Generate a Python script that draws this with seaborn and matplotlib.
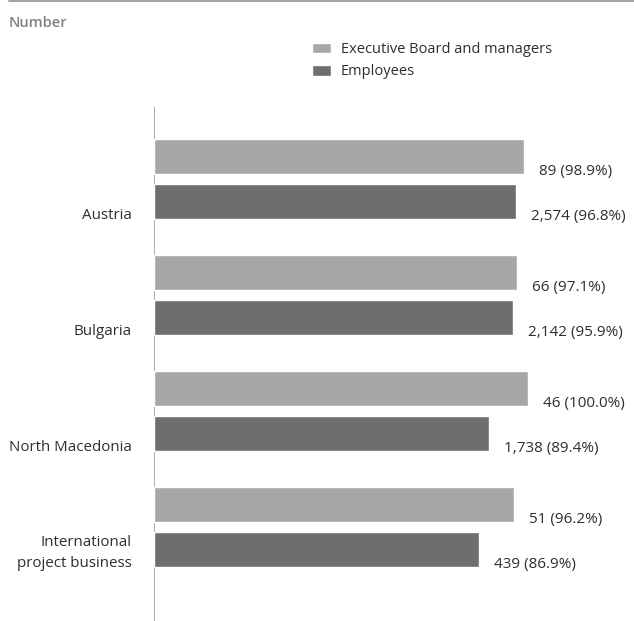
import matplotlib
matplotlib.use("Agg")
import matplotlib.pyplot as plt
from matplotlib.lines import Line2D
import pandas as pd
import seaborn as sns

# Workforce covered, by region and staff group
regions = ["Austria", "Bulgaria", "North Macedonia", "International\nproject business"]
groups = ["Executive Board and managers", "Employees"]
managers_count = [89, 66, 46, 51]
managers_share = [98.9, 97.1, 100.0, 96.2]
employees_count = [2574, 2142, 1738, 439]
employees_share = [96.8, 95.9, 89.4, 86.9]

df = pd.DataFrame({
    "region": regions * 2,
    "group": [groups[0]] * len(regions) + [groups[1]] * len(regions),
    "share": managers_share + employees_share,
    "count": managers_count + employees_count,
})

sns.set_style("white")
plt.rcParams["font.family"] = ["Open Sans", "DejaVu Sans"]

W, H = 634, 621
PX = 0.72  # points per pixel at 100 dpi
FS = 10.5
TEXT = "#2e2e2e"

fig = plt.figure(figsize=(W / 100, H / 100), dpi=100)
ax = fig.add_axes([154 / W, 1 - 620 / H, (528.3 - 154) / W, (620 - 107) / H])

palette = {groups[0]: "#a7a7a7", groups[1]: "#6e6e6d"}
sns.barplot(
    data=df, y="region", x="share", hue="group",
    order=regions, hue_order=groups, palette=palette,
    orient="h", width=0.776, gap=0.227, saturation=1, ax=ax,
)

ax.set_xlim(0, 100)
ax.set_ylim(3.8017, -0.6207)
ax.set_xticks([])
ax.set_yticks([])
ax.set_xlabel("")
ax.set_ylabel("")
sns.despine(ax=ax, left=False, bottom=True)
ax.spines["left"].set_color("#b0b0b0")
ax.spines["left"].set_linewidth(1 * PX)
ax.spines["left"].set_zorder(0.5)

# value labels: count and share, just past the bar end
for container, counts, shares in zip(
    ax.containers, [managers_count, employees_count], [managers_share, employees_share]
):
    for patch, n, s in zip(container, counts, shares):
        ax.annotate(
            f"{n:,} ({s:.1f}%)",
            xy=(patch.get_width(), patch.get_y() + patch.get_height()),
            xytext=(15 * PX, -1.5 * PX), textcoords="offset points",
            ha="left", va="baseline", fontsize=11, color=TEXT,
            annotation_clip=False,
        )

# region names, bottom-aligned with each group's lower bar
for patch, name in zip(ax.containers[1], regions):
    ax.annotate(
        name,
        xy=(0, patch.get_y() + patch.get_height()),
        xycoords=("axes fraction", "data"),
        xytext=(-22 * PX, -4 * PX), textcoords="offset points",
        ha="right", va="bottom", fontsize=10.9, color=TEXT,
        linespacing=1.55, annotation_clip=False,
    )

sns.move_legend(
    ax, "upper left",
    bbox_to_anchor=(312 / W, 1 - 42 / H), bbox_transform=fig.transFigure,
    frameon=False, title=None, fontsize=FS,
    handlelength=1.3, handleheight=0.75, handletextpad=0.68,
    borderpad=0, borderaxespad=0, labelspacing=0.5, labelcolor=TEXT,
)

fig.add_artist(Line2D([9 / W, 1], [1 - 1 / H] * 2, transform=fig.transFigure,
                      color="#a5a5a5", lw=2 * PX))
fig.text(9 / W, 1 - 26.7 / H, "Number", ha="left", va="baseline",
         fontsize=FS, color="#808080", fontweight="semibold")

fig.savefig("out.png", dpi=100)
